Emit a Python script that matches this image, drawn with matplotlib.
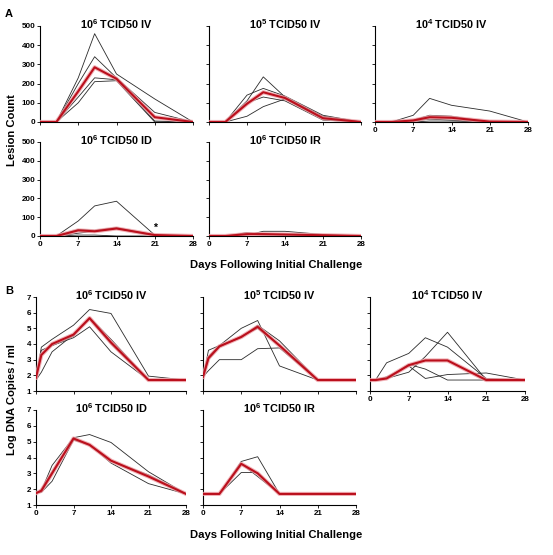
import matplotlib
matplotlib.use('Agg')
from matplotlib import pyplot as plt

plt.rcParams['font.family'] = ['Liberation Sans', 'DejaVu Sans']
plt.rcParams['font.weight'] = 'bold'
plt.rcParams['mathtext.fontset'] = 'custom'
plt.rcParams['mathtext.bf'] = 'Liberation Sans:bold'

# panel A: lesion counts
days_a = [0, 3, 7, 10, 14, 21, 28]
a_6iv = [[0, 0, 230, 460, 250, 120, 0],
         [0, 0, 200, 340, 230, 50, 0],
         [0, 0, 130, 230, 220, 5, 0],
         [0, 0, 100, 210, 215, 0, 0]]
a_6iv_mean = [0, 0, 160, 285, 225, 25, 0]
a_5iv = [[0, 0, 110, 235, 130, 30, 0],
         [0, 0, 140, 175, 135, 35, 0],
         [0, 0, 100, 130, 110, 10, 0],
         [0, 0, 30, 80, 120, 15, 0]]
a_5iv_mean = [0, 0, 95, 155, 125, 20, 0]
a_4iv = [[0, 0, 35, 123, 87, 57, 0],
         [0, 0, 10, 35, 30, 0, 0],
         [0, 0, 5, 15, 10, 0, 0],
         [0, 0, 0, 5, 5, 0, 0]]
a_4iv_mean = [0, 0, 8, 25, 22, 2, 0]
a_6id = [[0, 0, 80, 160, 185, 5, 0],
         [0, 0, 35, 30, 45, 5, 0],
         [0, 0, 15, 25, 40, 0, 0],
         [0, 0, 5, 5, 0, 0, 0]]
a_6id_mean = [0, 0, 30, 25, 40, 5, 0]
a_6ir = [[0, 0, 18, 10, 5, 2, 0],
         [0, 0, 5, 25, 25, 8, 0],
         [0, 0, 10, 5, 5, 0, 0]]
a_6ir_mean = [0, 0, 10, 10, 8, 4, 0]

# panel B: log DNA copies / ml
days_b = [0, 1, 3, 7, 10, 14, 21, 28]
b_6iv = [[1.8, 3.8, 4.3, 5.2, 6.2, 5.95, 1.95, 1.7],
         [1.9, 3.6, 3.9, 4.4, 5.1, 3.5, 1.7, 1.7],
         [1.7, 2.2, 3.5, 4.6, 5.6, 4.0, 1.7, 1.7],
         [2.0, 3.3, 3.9, 4.5, 5.7, 4.3, 1.7, 1.7]]
b_6iv_mean = [1.85, 3.3, 4.0, 4.6, 5.65, 4.1, 1.7, 1.7]
b_5iv = [[1.8, 3.6, 3.9, 5.0, 5.5, 2.6, 1.7, 1.7],
         [1.9, 2.3, 3.0, 3.0, 3.7, 3.75, 1.7, 1.7],
         [2.0, 3.2, 3.9, 4.4, 5.2, 4.2, 1.7, 1.7],
         [1.8, 3.0, 3.8, 4.5, 5.0, 3.9, 1.7, 1.7]]
b_5iv_mean = [1.9, 3.1, 3.85, 4.45, 5.1, 3.9, 1.7, 1.7]
b_4iv = [[1.7, 1.7, 2.8, 3.4, 4.4, 3.8, 1.8, 1.7],
         [1.7, 1.7, 1.8, 2.2, 3.2, 4.75, 1.7, 1.7],
         [1.7, 1.7, 1.9, 2.6, 1.8, 2.05, 2.15, 1.7],
         [1.7, 1.7, 1.8, 2.7, 2.4, 1.7, 1.7, 1.7]]
b_4iv_mean = [1.7, 1.7, 1.8, 2.65, 2.95, 2.95, 1.7, 1.7]
b_6id = [[1.7, 1.9, 3.5, 5.25, 5.45, 4.95, 3.1, 1.7],
         [1.8, 1.8, 2.5, 5.1, 4.8, 3.65, 2.35, 1.7],
         [1.7, 2.0, 3.1, 5.2, 4.75, 3.8, 2.9, 1.7]]
b_6id_mean = [1.75, 1.9, 3.0, 5.2, 4.8, 3.8, 2.8, 1.7]
b_6ir = [[1.7, 1.7, 1.7, 3.75, 4.05, 1.7, 1.7, 1.7],
         [1.7, 1.7, 1.7, 3.05, 3.05, 1.7, 1.7, 1.7],
         [1.7, 1.7, 1.7, 3.6, 2.8, 1.7, 1.7, 1.7]]
b_6ir_mean = [1.7, 1.7, 1.7, 3.6, 3.0, 1.7, 1.7, 1.7]

titles = [r'$\mathbf{10^6}$ TCID50 IV', r'$\mathbf{10^5}$ TCID50 IV',
          r'$\mathbf{10^4}$ TCID50 IV', r'$\mathbf{10^6}$ TCID50 ID',
          r'$\mathbf{10^6}$ TCID50 IR']
x_ticks = [0, 7, 14, 21, 28]
a_ticks = [0, 100, 200, 300, 400, 500]
b_ticks = [1, 2, 3, 4, 5, 6, 7]

W, H = 553, 555
fig = plt.figure(figsize=(W / 100, H / 100), dpi=100)


def make_ax(left, top, right, bottom):
    return fig.add_axes([left / W, 1 - bottom / H, (right - left) / W, (bottom - top) / H])


def draw(ax, days, lines, mean, title, ylim, yticks, show_y, show_x):
    for ln in lines:
        ax.plot(days, ln, color='#2a2a2a', lw=0.6, zorder=2)
    ax.plot(days, mean, color='#eea0a6', lw=3.0, alpha=0.8, zorder=3)
    ax.plot(days, mean, color='#bb0f1c', lw=1.5, zorder=4)
    ax.set_xlim(0, 28)
    ax.set_ylim(*ylim)
    ax.set_xticks(x_ticks)
    ax.set_yticks(yticks)
    for s in ['top', 'right']:
        ax.spines[s].set_visible(False)
    for s in ['left', 'bottom']:
        ax.spines[s].set_linewidth(0.8)
    ax.tick_params(length=2, width=0.6, labelsize=5.8, pad=1.5)
    if not show_y:
        ax.set_yticklabels([])
    if not show_x:
        ax.set_xticklabels([])
    for lab in ax.get_xticklabels() + ax.get_yticklabels():
        lab.set_fontweight('bold')
    ax.text(0.5, 1.02, title, transform=ax.transAxes, ha='center', va='center',
            fontsize=7.8, fontweight='bold')
    ax.patch.set_alpha(0)


# panel A
ax1 = make_ax(40, 26, 193, 122)
ax2 = make_ax(209, 26, 361, 122)
ax3 = make_ax(375, 26, 528, 122)
ax4 = make_ax(40, 142, 193, 236)
ax5 = make_ax(209, 142, 361, 236)
draw(ax1, days_a, a_6iv, a_6iv_mean, titles[0], (0, 500), a_ticks, True, False)
draw(ax2, days_a, a_5iv, a_5iv_mean, titles[1], (0, 500), a_ticks, False, False)
draw(ax3, days_a, a_4iv, a_4iv_mean, titles[2], (0, 500), a_ticks, False, True)
draw(ax4, days_a, a_6id, a_6id_mean, titles[3], (0, 500), a_ticks, True, True)
draw(ax5, days_a, a_6ir, a_6ir_mean, titles[4], (0, 500), a_ticks, False, True)
ax4.text(21, 45, '*', ha='center', va='center', fontsize=7.5, fontweight='bold')

# panel B
bx1 = make_ax(36, 297, 186, 391)
bx2 = make_ax(203, 297, 356, 391)
bx3 = make_ax(370, 297, 525, 391)
bx4 = make_ax(36, 410, 186, 505)
bx5 = make_ax(203, 410, 356, 505)
draw(bx1, days_b, b_6iv, b_6iv_mean, titles[0], (1, 7), b_ticks, True, False)
draw(bx2, days_b, b_5iv, b_5iv_mean, titles[1], (1, 7), b_ticks, False, False)
draw(bx3, days_b, b_4iv, b_4iv_mean, titles[2], (1, 7), b_ticks, False, True)
draw(bx4, days_b, b_6id, b_6id_mean, titles[3], (1, 7), b_ticks, True, True)
draw(bx5, days_b, b_6ir, b_6ir_mean, titles[4], (1, 7), b_ticks, False, True)

fig.text(5 / W, 1 - 14 / H, 'A', fontsize=8, fontweight='bold', va='center')
fig.text(5 / W, 1 - 291 / H, 'B', fontsize=8, fontweight='bold', va='center')
fig.text(12 / W, 1 - 130 / H, 'Lesion Count', rotation=90, fontsize=8.1,
         fontweight='bold', ha='center', va='center')
fig.text(12 / W, 1 - 400 / H, 'Log DNA Copies / ml', rotation=90, fontsize=8.1,
         fontweight='bold', ha='center', va='center')
fig.text(276 / W, 1 - 265 / H, 'Days Following Initial Challenge', fontsize=8.1,
         fontweight='bold', ha='center', va='center')
fig.text(276 / W, 1 - 535 / H, 'Days Following Initial Challenge', fontsize=8.1,
         fontweight='bold', ha='center', va='center')

fig.savefig('out.png', dpi=100)
